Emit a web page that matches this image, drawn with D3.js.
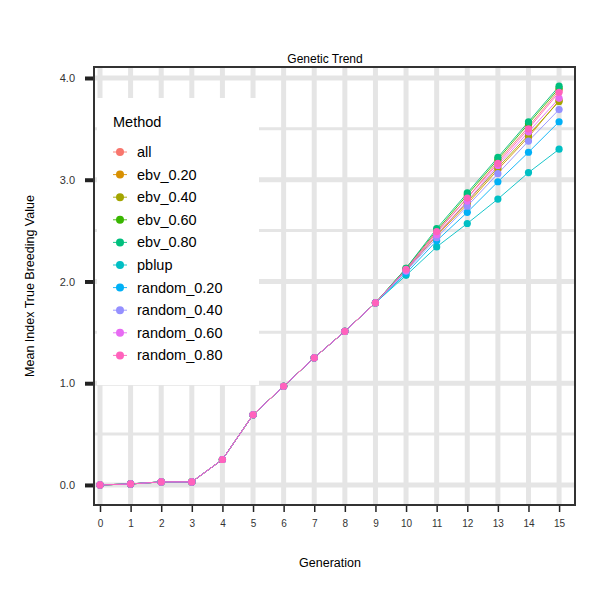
<!DOCTYPE html>
<html><head><meta charset="utf-8">
<script src="https://cdn.jsdelivr.net/npm/d3@7"></script>
<style>body{margin:0;background:#fff;font-family:"Liberation Sans",Arial,sans-serif}</style>
</head><body><div class="chart"></div>
<script>
const generations = d3.range(0, 16);
const early = [0, 0.01, 0.03, 0.03, 0.25, 0.69, 0.97, 1.25, 1.51, 1.79];
const methods = ["all","ebv_0.20","ebv_0.40","ebv_0.60","ebv_0.80","pblup","random_0.20","random_0.40","random_0.60","random_0.80"];
const lateValues = [
  [2.12,2.48,2.82,3.18,3.52,3.88],
  [2.11,2.45,2.76,3.10,3.42,3.78],
  [2.11,2.46,2.78,3.12,3.44,3.77],
  [2.13,2.50,2.85,3.20,3.55,3.90],
  [2.13,2.52,2.87,3.22,3.57,3.92],
  [2.06,2.34,2.57,2.81,3.07,3.30],
  [2.08,2.40,2.68,2.98,3.27,3.57],
  [2.10,2.43,2.74,3.06,3.38,3.69],
  [2.11,2.46,2.79,3.14,3.47,3.80],
  [2.12,2.49,2.82,3.16,3.50,3.86]
];
const colors = ["#F8766D","#D89000","#A3A500","#39B600","#00BF7D","#00BFC4","#00B0F6","#9590FF","#E76BF3","#FF62BC"];

const pLeft = 94, pTop = 67, pRight = 575, pBottom = 505;
const svg = d3.select(".chart").append("svg").attr("width", 600).attr("height", 600);

const x = d3.scaleLinear().domain([-0.196, 15.52]).range([pLeft, pRight]);
const y = d3.scaleLinear().domain([-0.197, 4.108]).range([pBottom, pTop]);
const color = d3.scaleOrdinal().domain(methods).range(colors);

// grid
const grid = svg.append("g");
d3.range(0.5, 4.1, 1).forEach(v => grid.append("line").attr("x1", pLeft).attr("x2", pRight)
  .attr("y1", y(v)).attr("y2", y(v)).attr("stroke", "#e5e5e5").attr("stroke-width", 3));
d3.range(0, 5).forEach(v => grid.append("line").attr("x1", pLeft).attr("x2", pRight)
  .attr("y1", y(v)).attr("y2", y(v)).attr("stroke", "#e5e5e5").attr("stroke-width", 5));
generations.forEach(v => grid.append("line").attr("y1", pTop).attr("y2", pBottom)
  .attr("x1", x(v)).attr("x2", x(v)).attr("stroke", "#e5e5e5").attr("stroke-width", 5));

// legend background covers grid
svg.append("rect").attr("x", 97).attr("y", 98).attr("width", 162).attr("height", 287).attr("fill", "#fff");

const series = methods.map((m, i) => ({m, values: early.concat(lateValues[i]).map((v, g) => ({g, v}))}));
const line = d3.line().x(d => x(d.g)).y(d => y(d.v));
series.forEach(s => {
  svg.append("path").attr("d", line(s.values)).attr("fill", "none")
    .attr("stroke", color(s.m)).attr("stroke-width", 0.9);
});
series.forEach(s => {
  svg.append("g").selectAll("circle").data(s.values).join("circle")
    .attr("cx", d => x(d.g)).attr("cy", d => y(d.v)).attr("r", 3.6).attr("fill", color(s.m));
});

svg.append("rect").attr("x", pLeft).attr("y", pTop).attr("width", pRight - pLeft).attr("height", pBottom - pTop)
  .attr("fill", "none").attr("stroke", "#333").attr("stroke-width", 2);

const yAxis = svg.append("g").attr("transform", `translate(${pLeft - 1},0)`)
  .call(d3.axisLeft(y).tickValues([0,1,2,3,4]).tickSize(8).tickPadding(10));
yAxis.select(".domain").remove();
yAxis.selectAll("line").attr("stroke", "#222").attr("stroke-width", 4);
yAxis.selectAll("text").attr("font-size", 11).attr("fill", "#333");

const xAxis = svg.append("g").attr("transform", `translate(0,${pBottom + 1})`)
  .call(d3.axisBottom(x).tickValues(generations).tickSize(6).tickPadding(8));
xAxis.select(".domain").remove();
xAxis.selectAll("line").attr("stroke", "#222").attr("stroke-width", 1.5);
xAxis.selectAll("text").attr("font-size", 10).attr("fill", "#333");

svg.append("text").attr("x", 325).attr("y", 63).attr("text-anchor", "middle").attr("font-size", 12).text("Genetic Trend");
svg.append("text").attr("x", 330).attr("y", 567).attr("text-anchor", "middle").attr("font-size", 12.5).text("Generation");
svg.append("text").attr("transform", "translate(34,286) rotate(-90)").attr("text-anchor", "middle")
  .attr("font-size", 12.5).text("Mean Index True Breeding Value");

// legend
svg.append("text").attr("x", 113).attr("y", 127).attr("font-size", 14.5).text("Method");
const leg = svg.append("g").selectAll("g").data(methods).join("g")
  .attr("transform", (d, i) => `translate(120,${152 + i * 22.6})`);
leg.append("line").attr("x1", -7).attr("x2", 7).attr("stroke", d => color(d)).attr("stroke-width", 0.9);
leg.append("circle").attr("r", 4).attr("fill", d => color(d));
leg.append("text").attr("x", 17).attr("dy", "0.35em").attr("font-size", 14.5).text(d => d);
</script></body></html>
